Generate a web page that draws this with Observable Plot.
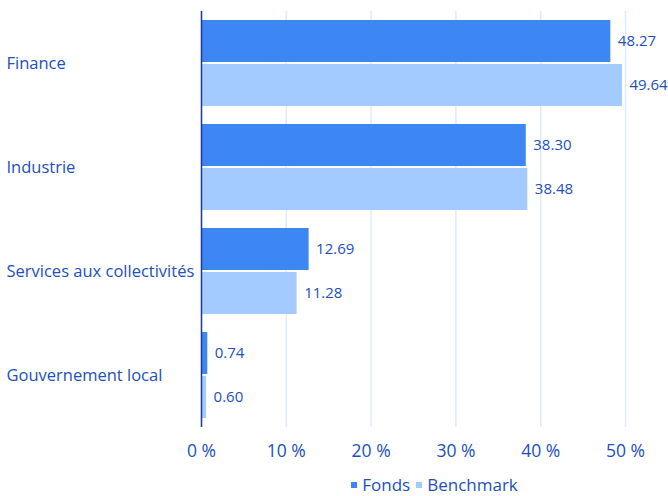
<!DOCTYPE html>
<html><head><meta charset="utf-8">
<script src="https://cdn.jsdelivr.net/npm/d3@7"></script>
<script src="https://cdn.jsdelivr.net/npm/@observablehq/plot@0.6"></script>
<style>
body{margin:0;background:#fff;font-family:"Open Sans",sans-serif}
#legend{padding-left:201px;width:467px;text-align:center;font-size:17px;color:#2150bd;height:26px;line-height:26px;margin-top:2px}
#legend span.sw{display:inline-block;width:6px;height:6px;margin:0 5px 3px 0;vertical-align:middle}
#legend span.item{margin:0 3px}
</style>
</head><body><div id="chart"></div><div id="legend"></div><script>
const categories = ["Finance","Industrie","Services aux collectivités","Gouvernement local"];
const series = ["Fonds","Benchmark"];
const fonds = [48.27,38.30,12.69,0.74];
const benchmark = [49.64,38.48,11.28,0.60];
const xTicks = [0,10,20,30,40,50];
const colors = ["#3d87f5","#a3cbff"];
const textColor = "#2150bd";

const data = categories.flatMap((c,i)=>[
  {category:c, series:series[0], value:fonds[i]},
  {category:c, series:series[1], value:benchmark[i]}
]);

const chart = Plot.plot({
  width:668, height:470,
  marginTop:4, marginBottom:37, marginLeft:201, marginRight:43,
  style:{fontFamily:"Open Sans", color:textColor, background:"white"},
  x:{domain:[0,50], axis:null},
  y:{domain:series, axis:null, paddingInner:0.045, paddingOuter:0.183},
  fy:{domain:categories, paddingInner:0, paddingOuter:0.057, axis:null},
  color:{domain:series, range:colors},
  marks:[
    Plot.gridX(xTicks, {stroke:"#dfeafb", strokeOpacity:1, strokeWidth:1.5}),
    Plot.barX(data, {x:"value", y:"series", fy:"category", fill:"series"}),
    Plot.ruleX([0], {stroke:"#1a3a9e", strokeWidth:1.5}),
    Plot.text(data, {x:"value", y:"series", fy:"category", text:d=>d.value.toFixed(2), dx:7, textAnchor:"start", fill:textColor, fontSize:15}),
    Plot.axisX({ticks:xTicks, tickSize:0, tickPadding:17, tickFormat:d=>d+" %", fontSize:17.5, fill:textColor, label:null}),
    Plot.axisFy({anchor:"left", tickSize:0, tickPadding:0, textAnchor:"start", dx:-195, fontSize:16.5, fill:textColor, label:null})
  ]
});
document.getElementById("chart").appendChild(chart);

const legend = d3.select("#legend");
series.forEach((s,i)=>{
  const item = legend.append("span").attr("class","item");
  item.append("span").attr("class","sw").style("background",colors[i]);
  item.append("span").text(s);
});
</script></body></html>
